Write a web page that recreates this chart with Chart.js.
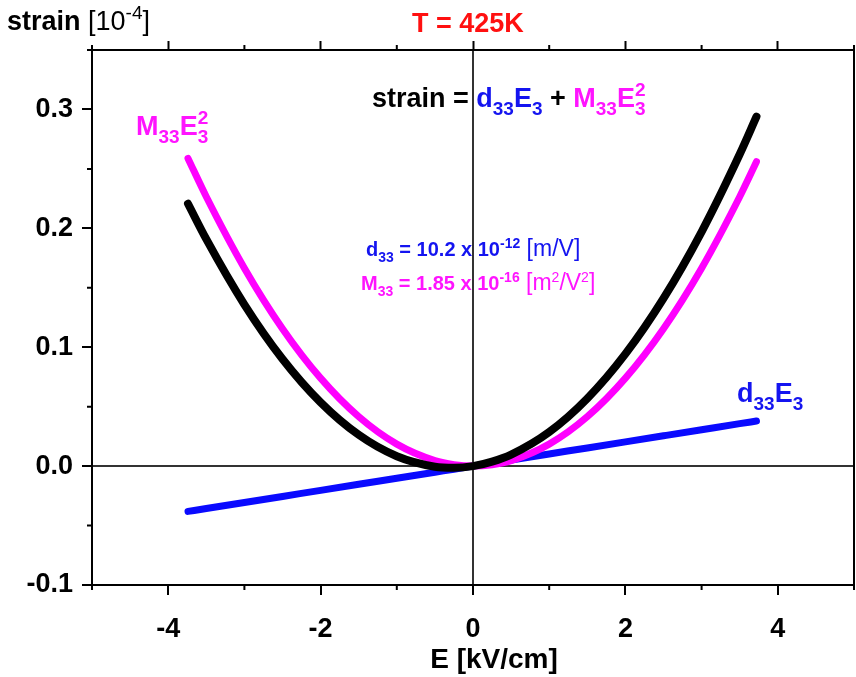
<!DOCTYPE html>
<html>
<head>
<meta charset="utf-8">
<script src="https://cdn.jsdelivr.net/npm/chart.js@4.4.1/dist/chart.umd.min.js"></script>
<style>
  html, body { margin: 0; padding: 0; background: #fff; }
  #wrap { width: 856px; height: 677px; }
</style>
</head>
<body>
<div id="wrap"><canvas id="strainChart" width="856" height="677"></canvas></div>
<script>
// field E [kV/cm] and strain [10^-4] at 425 K
const fieldE   = [-3.74, -3.5, -3, -2.5, -2, -1.5, -1, -0.5, -0.25, 0, 0.25, 0.5, 1, 1.5, 2, 2.5, 3, 3.5, 3.72];
const strainQuad = [0.2588, 0.2266, 0.1665, 0.1156, 0.0740, 0.0416, 0.0185, 0.0046, 0.0012, 0, 0.0012, 0.0046, 0.0185, 0.0416, 0.0740, 0.1156, 0.1665, 0.2266, 0.2560];
const strainLin  = [-0.0381, -0.0357, -0.0306, -0.0255, -0.0204, -0.0153, -0.0102, -0.0051, -0.0026, 0, 0.0026, 0.0051, 0.0102, 0.0153, 0.0204, 0.0255, 0.0306, 0.0357, 0.0379];
const strainTotal = [0.2207, 0.1909, 0.1359, 0.0901, 0.0536, 0.0263, 0.0083, -0.0005, -0.0014, 0, 0.0038, 0.0097, 0.0287, 0.0569, 0.0944, 0.1411, 0.1971, 0.2623, 0.2939];

const xTicks = [-4, -2, 0, 2, 4];
const yTicks = [-0.1, 0.0, 0.1, 0.2, 0.3];

const FONT = '"Liberation Sans", Arial, sans-serif';
const BLUE = '#1414f0';
const MAGENTA = '#ff14ff';
const RED = '#ff1010';

const toPoints = ys => fieldE.map((e, i) => ({ x: e, y: ys[i] }));

const isMajorX = v => Math.round(v) % 2 === 0;
const isMajorY = v => Math.round(v * 20) % 2 === 0;

// text with sub/superscripts, each part advances x
function drawRich(ctx, x, y, size, parts) {
  ctx.textBaseline = 'alphabetic';
  ctx.textAlign = 'left';
  const small = Math.round(size * 0.7);
  for (const p of parts) {
    const weight = p.normal ? '' : 'bold ';
    let w = 0;
    if (p.s === 'sub' || p.s === 'sup') {
      ctx.font = weight + small + 'px ' + FONT;
      ctx.fillStyle = p.c;
      const dy = p.s === 'sub' ? size * 0.3 : -size * 0.42;
      ctx.fillText(p.t, x, y + dy);
      w = ctx.measureText(p.t).width;
      if (p.stack) {
        ctx.fillText(p.stack, x, y - size * 0.42);
        w = Math.max(w, ctx.measureText(p.stack).width);
      }
    } else {
      ctx.font = weight + (p.size || size) + 'px ' + FONT;
      ctx.fillStyle = p.c;
      ctx.fillText(p.t, x, y);
      w = ctx.measureText(p.t).width;
    }
    x += w;
  }
}

const annotations = {
  id: 'annotations',
  afterDraw(chart) {
    const ctx = chart.ctx;
    const { x, x2, y } = chart.scales;
    ctx.save();

    // minor ticks, outward
    ctx.strokeStyle = '#000';
    ctx.lineWidth = 2;
    ctx.beginPath();
    x.ticks.forEach(t => {
      if (isMajorX(t.value)) return;
      const px = x.getPixelForValue(t.value);
      ctx.moveTo(px, x.top); ctx.lineTo(px, x.top + 5);
      ctx.moveTo(px, x2.bottom); ctx.lineTo(px, x2.bottom - 5);
    });
    y.ticks.forEach(t => {
      if (isMajorY(t.value)) return;
      const py = y.getPixelForValue(t.value);
      ctx.moveTo(y.right, py); ctx.lineTo(y.right - 5, py);
    });
    ctx.stroke();

    // axis titles
    drawRich(ctx, 7, 30, 27, [
      { t: 'strain', c: '#000' },
      { t: ' [10', c: '#000', normal: true },
      { t: '-4', c: '#000', normal: true, s: 'sup' },
      { t: ']', c: '#000', normal: true }
    ]);
    ctx.font = 'bold 27px ' + FONT;
    ctx.fillStyle = RED;
    ctx.fillText('T = 425K', 412, 32);

    ctx.font = 'bold 28px ' + FONT;
    ctx.fillStyle = '#000';
    ctx.textAlign = 'center';
    ctx.fillText('E [kV/cm]', 494, 668);

    // model equation
    drawRich(ctx, 372, 107, 27, [
      { t: 'strain = ', c: '#000' },
      { t: 'd', c: BLUE }, { t: '33', c: BLUE, s: 'sub' },
      { t: 'E', c: BLUE }, { t: '3', c: BLUE, s: 'sub' },
      { t: ' + ', c: '#000' },
      { t: 'M', c: MAGENTA }, { t: '33', c: MAGENTA, s: 'sub' },
      { t: 'E', c: MAGENTA }, { t: '3', c: MAGENTA, s: 'sub', stack: '2' }
    ]);

    // curve labels
    drawRich(ctx, 136, 135, 27, [
      { t: 'M', c: MAGENTA }, { t: '33', c: MAGENTA, s: 'sub' },
      { t: 'E', c: MAGENTA }, { t: '3', c: MAGENTA, s: 'sub', stack: '2' }
    ]);
    drawRich(ctx, 737, 402, 27, [
      { t: 'd', c: BLUE }, { t: '33', c: BLUE, s: 'sub' },
      { t: 'E', c: BLUE }, { t: '3', c: BLUE, s: 'sub' }
    ]);

    // fitted coefficients
    drawRich(ctx, 366, 256, 20, [
      { t: 'd', c: BLUE }, { t: '33', c: BLUE, s: 'sub' },
      { t: ' = 10.2 x 10', c: BLUE }, { t: '-12', c: BLUE, s: 'sup' },
      { t: ' [m/V]', c: BLUE, normal: true, size: 23 }
    ]);
    drawRich(ctx, 361, 290, 20, [
      { t: 'M', c: MAGENTA }, { t: '33', c: MAGENTA, s: 'sub' },
      { t: ' = 1.85 x 10', c: MAGENTA }, { t: '-16', c: MAGENTA, s: 'sup' },
      { t: ' [m', c: MAGENTA, normal: true, size: 23 },
      { t: '2', c: MAGENTA, normal: true, s: 'sup' },
      { t: '/V', c: MAGENTA, normal: true, size: 23 },
      { t: '2', c: MAGENTA, normal: true, s: 'sup' },
      { t: ']', c: MAGENTA, normal: true, size: 23 }
    ]);
    ctx.restore();
  }
};

const tickFont = { family: FONT, size: 27, weight: 'bold' };

// fixed box sizes so the plot frame sits at 92..854 x 50..585
const fixBox = (w, h) => s => {
  if (w !== null) s.width = w;
  if (h !== null) s.height = h;
  s.paddingLeft = 0; s.paddingRight = 0; s.paddingTop = 0; s.paddingBottom = 0;
};

new Chart(document.getElementById('strainChart'), {
  type: 'line',
  data: {
    datasets: [
      { label: 'strain', data: toPoints(strainTotal), borderColor: '#000', borderWidth: 8, order: 0 },
      { label: 'M33E3^2', data: toPoints(strainQuad), borderColor: '#ff00ff', borderWidth: 7, order: 1 },
      { label: 'd33E3', data: toPoints(strainLin), borderColor: '#0a0aff', borderWidth: 7, order: 2 }
    ].map(d => Object.assign(d, {
      pointRadius: 0, fill: false, cubicInterpolationMode: 'monotone',
      borderCapStyle: 'round', borderJoinStyle: 'round'
    }))
  },
  options: {
    responsive: false,
    animation: false,
    devicePixelRatio: 1,
    layout: { padding: 0 },
    plugins: { legend: { display: false }, tooltip: { enabled: false }, title: { display: false } },
    scales: {
      x: {
        type: 'linear', position: 'bottom', min: -5, max: 5,
        afterFit: fixBox(null, 92),
        ticks: {
          stepSize: 1, autoSkip: false, maxRotation: 0, padding: 18,
          font: tickFont, color: '#000',
          callback: v => xTicks.includes(v) ? String(v) : ''
        },
        grid: {
          drawOnChartArea: true, tickLength: 10, tickWidth: 2, lineWidth: 2,
          color: c => (c.tick && c.tick.value === 0) ? '#333' : 'rgba(0,0,0,0)',
          tickColor: c => (c.tick && isMajorX(c.tick.value)) ? '#000' : 'rgba(0,0,0,0)'
        },
        border: { display: true, color: '#000', width: 2 }
      },
      x2: {
        type: 'linear', position: 'top', min: -5, max: 5,
        afterFit: fixBox(null, 50),
        ticks: { display: false, stepSize: 1, autoSkip: false },
        grid: {
          drawOnChartArea: false, tickLength: 9, tickWidth: 2,
          tickColor: c => (c.tick && isMajorX(c.tick.value)) ? '#000' : 'rgba(0,0,0,0)'
        },
        border: { display: true, color: '#000', width: 2 }
      },
      y: {
        type: 'linear', position: 'left', min: -0.1, max: 0.35,
        afterFit: fixBox(92, null),
        ticks: {
          stepSize: 0.05, autoSkip: false, padding: 9,
          font: tickFont, color: '#000',
          callback: v => {
            const r = Math.round(v * 20);
            return (r % 2 === 0 && yTicks.includes(r / 20)) ? (r / 20).toFixed(1) : '';
          }
        },
        grid: {
          drawOnChartArea: true, tickLength: 10, tickWidth: 2, lineWidth: 2,
          color: c => (c.tick && Math.abs(c.tick.value) < 1e-9) ? '#333' : 'rgba(0,0,0,0)',
          tickColor: c => (c.tick && isMajorY(c.tick.value)) ? '#000' : 'rgba(0,0,0,0)'
        },
        border: { display: true, color: '#000', width: 2 }
      },
      y2: {
        type: 'linear', position: 'right', min: -0.1, max: 0.35,
        afterFit: fixBox(2, null),
        ticks: { display: false },
        grid: { display: false },
        border: { display: true, color: '#000', width: 2 }
      }
    }
  },
  plugins: [annotations]
});
</script>
</body>
</html>
